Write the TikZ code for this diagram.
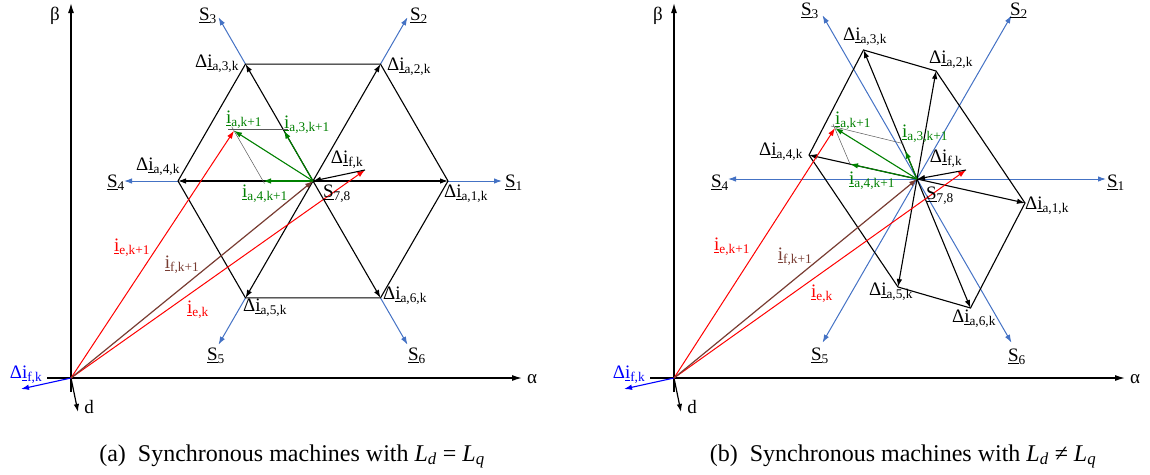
\documentclass[tikz,border=0pt]{standalone}
\usepackage{fontspec}
\setmainfont{Liberation Serif}
\usetikzlibrary{arrows.meta,calc}
\definecolor{sblue}{RGB}{68,114,196}
\definecolor{ibrown}{RGB}{120,60,50}
\definecolor{igreen}{RGB}{0,128,0}
\newcommand{\uvec}[2]{\underline{#1}\textsubscript{#2}}

\begin{document}
\begin{tikzpicture}[
    x=1pt, y=-1pt,
    font=\fontsize{19}{22}\selectfont,
    >={Latex[length=8pt,width=5.5pt]},
    every node/.style={inner sep=0pt},
    axis/.style={->, line width=1.3pt, >={Latex[length=10pt,width=6pt]}},
    svec/.style={->, sblue, line width=1pt},
    dvec/.style={->, black, line width=1.1pt},
    hexline/.style={black, line width=1.1pt},
    avec/.style={->, igreen, line width=1.1pt},
    evec/.style={->, red, line width=1pt},
    fvec/.style={->, ibrown, line width=1.2pt},
    aux/.style={black!65, line width=0.5pt},
    caption/.style={anchor=base, font=\fontsize{24}{28}\selectfont}
]
\useasboundingbox (0,0) rectangle (1150,474);

\foreach \p/\ox in {1/71,2/674} {
    \coordinate (O\p) at (\ox,378);
    \coordinate (yb\p) at ($(O\p)+(0,14)$);
    \coordinate (yt\p) at ($(O\p)+(0,-375)$);
    \coordinate (xl\p) at ($(O\p)+(-24,0)$);
    \coordinate (xr\p) at ($(O\p)+(451,0)$);
    \coordinate (d\p) at ($(O\p)+(7,34)$);
    \coordinate (df\p) at ($(O\p)+(-50,11)$);
    \draw[axis] (yb\p) -- (yt\p);
    \draw[axis] (xl\p) -- (xr\p);
    \draw[->, line width=1.2pt] (O\p) -- (d\p);
    \draw[->, blue, line width=1.1pt] (O\p) -- (df\p);
    \node (beta\p) at ($(O\p)+(-16,16-378)$) {β};
    \node (alpha\p) at ($(O\p)+(461,1)$) {α};
    \node (dl\p) at ($(O\p)+(18,29)$) {d};
    \node[blue] (dfl\p) at ($(O\p)+(-45,-3)$) {Δ\uvec{i}{f,k}};
}

\coordinate (C1) at (313,181);
\foreach \n/\ang in {1/0,2/-60,3/-120,4/180,5/120,6/60} {
    \coordinate (a\n) at ($(C1)+(\ang:135)$);
    \coordinate (sa\n) at ($(C1)+(\ang:189)$);
    \draw[svec] (a\n) -- (sa\n);
    \draw[dvec] (C1) -- (a\n);
}
\draw[hexline] (a1) -- (a2) -- (a3) -- (a4) -- (a5) -- (a6) -- cycle;
\coordinate (ia31) at ($(C1)!0.43!(a3)$);
\coordinate (ia41) at ($(C1)!0.37!(a4)$);
\coordinate (ia1) at ($(ia31)+(ia41)-(C1)$);
\coordinate (P1) at (365,170);
\draw[aux] ($(ia1)+(-6,-1)$) -- ($(ia31)+(4,-1)$);
\draw[aux] ($(ia1)!-0.08!(ia41)$) -- ($(ia41)!-0.05!(ia1)$);
\draw[avec] (C1) -- (ia31);
\draw[avec] (C1) -- (ia41);
\draw[avec] (C1) -- (ia1);
\draw[evec] (O1) -- (ia1);
\draw[evec] (O1) -- (P1);
\draw[fvec] (O1) -- (C1);
\draw[dvec] (P1) -- (C1);

\node (la1) at (466,194) {Δ\uvec{i}{a,1,k}};
\node (la2) at (409,67) {Δ\uvec{i}{a,2,k}};
\node (la3) at (217,64) {Δ\uvec{i}{a,3,k}};
\node (la4) at (158,167) {Δ\uvec{i}{a,4,k}};
\node (la5) at (265,308) {Δ\uvec{i}{a,5,k}};
\node (la6) at (405,296) {Δ\uvec{i}{a,6,k}};
\node (ls1) at (514,183) {\uvec{S}{1}};
\node (ls2) at (419,16) {\uvec{S}{2}};
\node (ls3) at (208,16) {\uvec{S}{3}};
\node (ls4) at (116,183) {\uvec{S}{4}};
\node (ls5) at (216,356) {\uvec{S}{5}};
\node (ls6) at (417,356) {\uvec{S}{6}};
\node (ls78) at (337,194) {\uvec{S}{7,8}};
\node (lf) at (347,160) {Δ\uvec{i}{f,k}};
\node[igreen] (lia) at (244,120) {\uvec{i}{a,k+1}};
\node[igreen] (lia3) at (307,125) {\uvec{i}{a,3,k+1}};
\node[igreen] (lia4) at (265,194) {\uvec{i}{a,4,k+1}};
\node[red] (lie1) at (132,248) {\uvec{i}{e,k+1}};
\node[ibrown] (lif1) at (182,265) {\uvec{i}{f,k+1}};
\node[red] (lie) at (198,310) {\uvec{i}{e,k}};

\coordinate (C2) at (917,179);
\foreach \n/\ang in {1/0,2/-60,3/-120,4/180,5/120,6/60} {
    \coordinate (sb\n) at ($(C2)+(\ang:189)$);
    \draw[svec] (C2) -- (sb\n);
}
\foreach \n/\dx/\dy in {1/108/24,2/19/-108,3/-53.5/-129,4/-108/-24,5/-19/108,6/53.5/129} {
    \coordinate (b\n) at ($(C2)+(\dx,\dy)$);
    \draw[dvec] (C2) -- (b\n);
}
\draw[hexline] (b1) -- (b2) -- (b3) -- (b4) -- (b5) -- (b6) -- cycle;
\coordinate (ia32) at ($(C2)!0.22!(b3)$);
\coordinate (ia42) at ($(C2)!0.62!(b4)$);
\coordinate (ia2) at (835,128);
\coordinate (P2) at (966,170);
\draw[aux] ($(ia2)+(-4,-2)$) -- ($(ia32)+(-2,-7)$);
\draw[aux] ($(ia2)+(-2,-4)$) -- (ia42);
\draw[avec] (C2) -- (ia32);
\draw[avec] (C2) -- (ia42);
\draw[avec] (C2) -- (ia2);
\draw[evec] (O2) -- (ia2);
\draw[evec] (O2) -- (P2);
\draw[fvec] (O2) -- (C2);
\draw[dvec] (P2) -- (C2);

\node (ra1) at (1047,206) {Δ\uvec{i}{a,1,k}};
\node (ra2) at (951,60) {Δ\uvec{i}{a,2,k}};
\node (ra3) at (865,37) {Δ\uvec{i}{a,3,k}};
\node (ra4) at (781,152) {Δ\uvec{i}{a,4,k}};
\node (ra5) at (891,292) {Δ\uvec{i}{a,5,k}};
\node (ra6) at (974,319) {Δ\uvec{i}{a,6,k}};
\node (rs1) at (1116,183) {\uvec{S}{1}};
\node (rs2) at (1019,11) {\uvec{S}{2}};
\node (rs3) at (810,11) {\uvec{S}{3}};
\node (rs4) at (720,183) {\uvec{S}{4}};
\node (rs5) at (820,356) {\uvec{S}{5}};
\node (rs6) at (1017,357) {\uvec{S}{6}};
\node (rs78) at (940,196) {\uvec{S}{7,8}};
\node (rf) at (946,159) {Δ\uvec{i}{f,k}};
\node[igreen] (ria) at (853,121) {\uvec{i}{a,k+1}};
\node[igreen] (ria3) at (925,134) {\uvec{i}{a,3,k+1}};
\node[igreen] (ria4) at (872,181) {\uvec{i}{a,4,k+1}};
\node[red] (rie1) at (732,247) {\uvec{i}{e,k+1}};
\node[ibrown] (rif1) at (795,257) {\uvec{i}{f,k+1}};
\node[red] (rie) at (822,294) {\uvec{i}{e,k}};

\node[caption] (capa) at (292,461) {(a)\hspace{0.5em}Synchronous machines with \textit{L}\textsubscript{\textit{d}} = \textit{L}\textsubscript{\textit{q}}};
\node[caption] (capb) at (903,461) {(b)\hspace{0.5em}Synchronous machines with \textit{L}\textsubscript{\textit{d}} ≠ \textit{L}\textsubscript{\textit{q}}};
\end{tikzpicture}
\end{document}
